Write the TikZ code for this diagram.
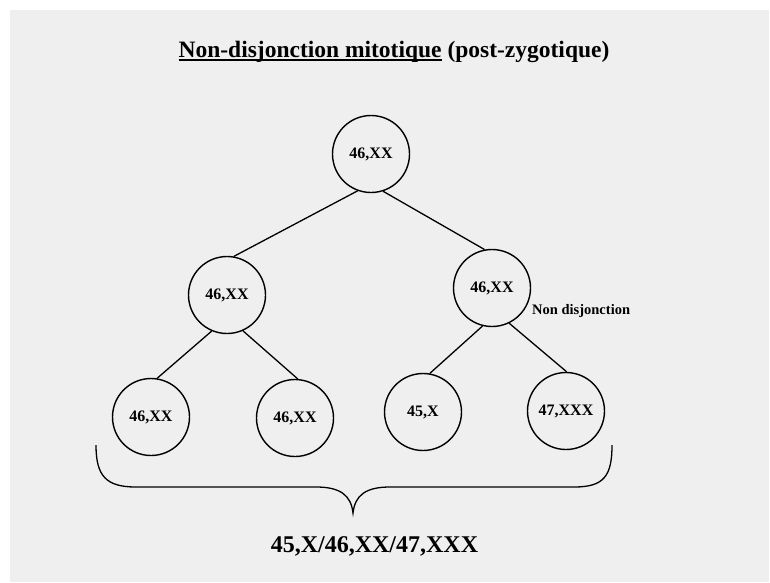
\documentclass[tikz,border=0pt]{standalone}
\usepackage{fontspec}
\setmainfont{Liberation Serif}
\definecolor{bgc}{HTML}{EFEFEF}
\newcommand\myul[1]{\setbox0\hbox{#1}\rlap{\rule[-3.8pt]{\wd0}{1.8pt}}\box0}
\tikzset{
  cell/.style={circle,draw=black,line width=1.4pt,minimum size=77pt,inner sep=0pt,
    font=\fontsize{16}{16}\selectfont\bfseries},
  link/.style={line width=1.3pt},
}
\begin{document}
\begin{tikzpicture}[x=1pt,y=-1pt]
\useasboundingbox (0,0) rectangle (770,582);
\fill[white] (0,0) rectangle (770,582);
\fill[bgc] (10,10) rectangle (769,582);

\node[anchor=base,font=\fontsize{23.5}{23.5}\selectfont\bfseries] (title) at (394,57)
  {\myul{Non-disjonction mitotique}\ (post-zygotique)};

\node[cell] (root) at (371,154) {46,XX};
\node[cell] (ml) at (227,295) {46,XX};
\node[cell] (mr) at (492,288) {46,XX};
\node[cell] (b1) at (151,417) {46,XX};
\node[cell] (b2) at (295,418) {46,XX};
\node[cell] (b3) at (423,412) {45,X};
\node[cell] (b4) at (566,411) {47,XXX};

\node[anchor=base west,inner sep=0pt,font=\fontsize{14.5}{14.5}\selectfont\bfseries] (nd) at (532,314) {Non disjonction};

\draw[link] (root.-110) -- (ml.80);
\draw[link] (root.-72) -- (mr.101);
\draw[link] (ml.-113) -- (b1.81);
\draw[link] (ml.-66) -- (b2.86);
\draw[link] (mr.-104) -- (b3.80);
\draw[link] (mr.-64) -- (b4.89);

\coordinate (bl) at (96,445);
\coordinate (br) at (612,445);
\coordinate (tip) at (353,513);
\draw[line width=1.3pt] (bl) .. controls (96,476) and (106,487) .. (136,487) -- (316,487)
  .. controls (340,487) and (351,495) .. (tip)
  .. controls (355,495) and (366,487) .. (390,487) -- (574,487)
  .. controls (604,487) and (612,476) .. (br);

\node[anchor=base,font=\fontsize{24}{24}\selectfont\bfseries] (result) at (374.5,552) {45,X/46,XX/47,XXX};
\end{tikzpicture}
\end{document}
